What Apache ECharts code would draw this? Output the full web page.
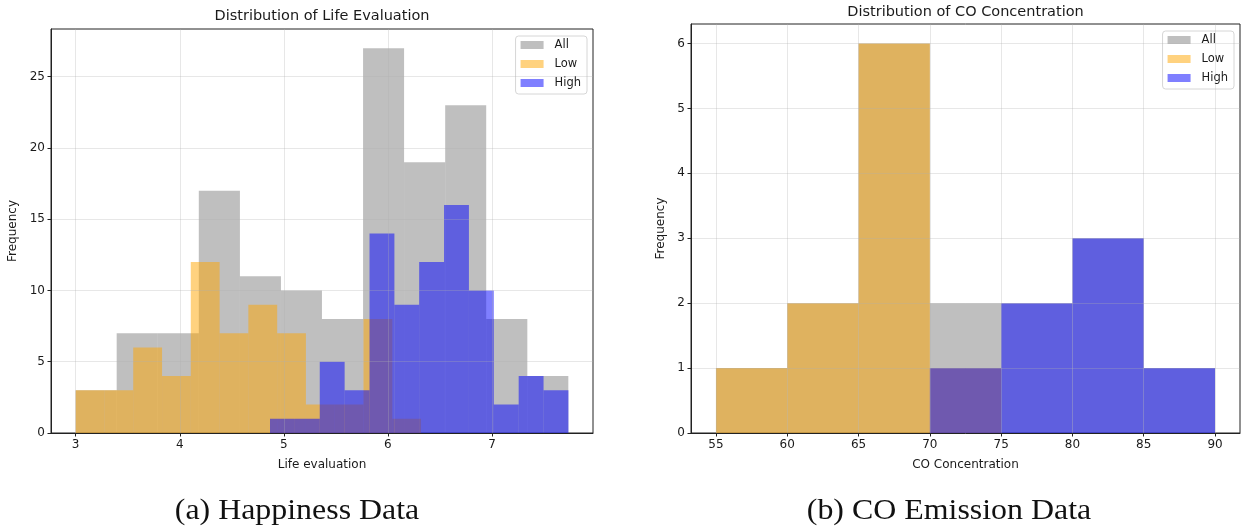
<!DOCTYPE html>
<html lang="en">
<head>
  <meta charset="UTF-8">
  <script src="https://cdn.jsdelivr.net/npm/echarts@6/dist/echarts.min.js"></script>
  <title>Histograms</title>
  <style>
    html, body { margin: 0; padding: 0; background: #fff; }
    #main { width: 1244px; height: 529px; }
  </style>
</head>
<body>
<div id="main"></div>
<script>
  // (a) life evaluation: bin edges + counts per group
  var lifeAllEdges = [3.000, 3.394, 3.789, 4.183, 4.578, 4.972, 5.366, 5.761, 6.155, 6.550, 6.944, 7.339, 7.733];
  var lifeAll = [3, 7, 7, 17, 11, 10, 8, 27, 19, 23, 8, 4];
  var lifeLowEdges = [3.000, 3.277, 3.553, 3.830, 4.106, 4.383, 4.659, 4.936, 5.212, 5.489, 5.765, 6.042, 6.318];
  var lifeLow = [3, 3, 6, 4, 12, 7, 9, 7, 2, 2, 8, 1];
  var lifeHighEdges = [4.867, 5.106, 5.345, 5.584, 5.823, 6.062, 6.300, 6.539, 6.778, 7.017, 7.256, 7.495, 7.734];
  var lifeHigh = [1, 1, 5, 3, 14, 9, 12, 16, 10, 2, 4, 3];
  var lifeXTicks = [3, 4, 5, 6, 7];
  var lifeYTicks = [0, 5, 10, 15, 20, 25];

  // (b) CO concentration
  var coAllEdges = [55, 60, 65, 70, 75, 80, 85, 90];
  var coAll = [1, 2, 6, 2, 2, 3, 1];
  var coLowEdges = [55, 60, 65, 70, 75];
  var coLow = [1, 2, 6, 1];
  var coHighEdges = [70, 75, 80, 85, 90];
  var coHigh = [1, 2, 3, 1];
  var coXTicks = [55, 60, 65, 70, 75, 80, 85, 90];
  var coYTicks = [0, 1, 2, 3, 4, 5, 6];

  var FONT = 'DejaVu Sans';
  var TXT = '#1a1a1a';
  var colors = { All: 'rgba(128,128,128,0.5)', Low: 'rgba(255,165,0,0.5)', High: 'rgba(0,0,255,0.5)' };

  function toBins(edges, counts) {
    return counts.map(function (c, i) { return [edges[i], edges[i + 1], c]; });
  }

  function renderBin(params, api) {
    var p0 = api.coord([api.value(0), api.value(2)]);
    var p1 = api.coord([api.value(1), 0]);
    return {
      type: 'rect',
      shape: { x: p0[0], y: p0[1], width: p1[0] - p0[0], height: p1[1] - p0[1] },
      style: { fill: api.visual('color') }
    };
  }

  function hist(name, idx, edges, counts) {
    return {
      type: 'custom', name: name, xAxisIndex: idx, yAxisIndex: idx,
      renderItem: renderBin, itemStyle: { color: colors[name] },
      encode: { x: [0, 1], y: 2 }, data: toBins(edges, counts), z: 2
    };
  }

  function xAxis(idx, min, max, ticks, name) {
    return {
      type: 'value', gridIndex: idx, min: min, max: max, z: 5,
      name: name, nameLocation: 'middle', nameGap: 26,
      nameTextStyle: { fontFamily: FONT, fontSize: 12, color: TXT },
      axisLine: { lineStyle: { color: '#222', width: 1 } },
      axisTick: { customValues: ticks, length: 3.5, lineStyle: { color: '#222' } },
      axisLabel: { customValues: ticks, fontFamily: FONT, fontSize: 12, color: TXT, margin: 6 },
      splitLine: { show: true, lineStyle: { color: 'rgba(176,176,176,0.3)', width: 1 } }
    };
  }

  function yAxis(idx, max, ticks, gap) {
    return {
      type: 'value', gridIndex: idx, min: 0, max: max, z: 5,
      name: 'Frequency', nameLocation: 'middle', nameGap: gap,
      nameTextStyle: { fontFamily: FONT, fontSize: 12, color: TXT },
      axisLine: { show: true, lineStyle: { color: '#222', width: 1 } },
      axisTick: { show: true, customValues: ticks, length: 3.5, lineStyle: { color: '#222' } },
      axisLabel: { customValues: ticks, fontFamily: FONT, fontSize: 12, color: TXT, margin: 6 },
      splitLine: { show: true, lineStyle: { color: 'rgba(176,176,176,0.3)', width: 1 } }
    };
  }

  function legend(right, top) {
    return {
      data: ['All', 'Low', 'High'], orient: 'vertical', right: right, top: top,
      icon: 'rect', itemWidth: 23, itemHeight: 8, itemGap: 7,
      padding: [3, 6, 5, 5], borderColor: '#d6d6d6', borderWidth: 1, borderRadius: 3,
      backgroundColor: 'rgba(255,255,255,0.8)',
      textStyle: { fontFamily: FONT, fontSize: 11.5, color: TXT, padding: [0, 0, 0, 6] },
      selectedMode: false
    };
  }

  var chart = echarts.init(document.getElementById('main'));
  chart.setOption({
    animation: false,
    backgroundColor: '#fff',
    grid: [
      { left: 51, top: 29, width: 542, height: 404, show: true, borderColor: '#222', borderWidth: 1 },
      { left: 691, top: 24, width: 549, height: 409, show: true, borderColor: '#222', borderWidth: 1 }
    ],
    xAxis: [
      xAxis(0, 2.763, 7.970, lifeXTicks, 'Life evaluation'),
      xAxis(1, 53.25, 91.75, coXTicks, 'CO Concentration')
    ],
    yAxis: [
      yAxis(0, 28.35, lifeYTicks, 32),
      yAxis(1, 6.3, coYTicks, 24)
    ],
    legend: [legend(657, 36), legend(10, 31)],
    series: [
      hist('All', 0, lifeAllEdges, lifeAll),
      hist('Low', 0, lifeLowEdges, lifeLow),
      hist('High', 0, lifeHighEdges, lifeHigh),
      hist('All', 1, coAllEdges, coAll),
      hist('Low', 1, coLowEdges, coLow),
      hist('High', 1, coHighEdges, coHigh)
    ],
    graphic: [
      { type: 'text', x: 322, y: 16, style: { text: 'Distribution of Life Evaluation', textAlign: 'center', textVerticalAlign: 'middle', font: '14.5px "DejaVu Sans"', fill: TXT } },
      { type: 'text', x: 965.5, y: 12, style: { text: 'Distribution of CO Concentration', textAlign: 'center', textVerticalAlign: 'middle', font: '14.5px "DejaVu Sans"', fill: TXT } },
      { type: 'text', x: 297, y: 511, scaleX: 1.1, style: { text: '(a) Happiness Data', textAlign: 'center', textVerticalAlign: 'middle', font: '29px "Liberation Serif"', fill: '#111' } },
      { type: 'text', x: 949, y: 511, scaleX: 1.1, style: { text: '(b) CO Emission Data', textAlign: 'center', textVerticalAlign: 'middle', font: '29px "Liberation Serif"', fill: '#111' } }
    ]
  });
</script>
</body>
</html>
